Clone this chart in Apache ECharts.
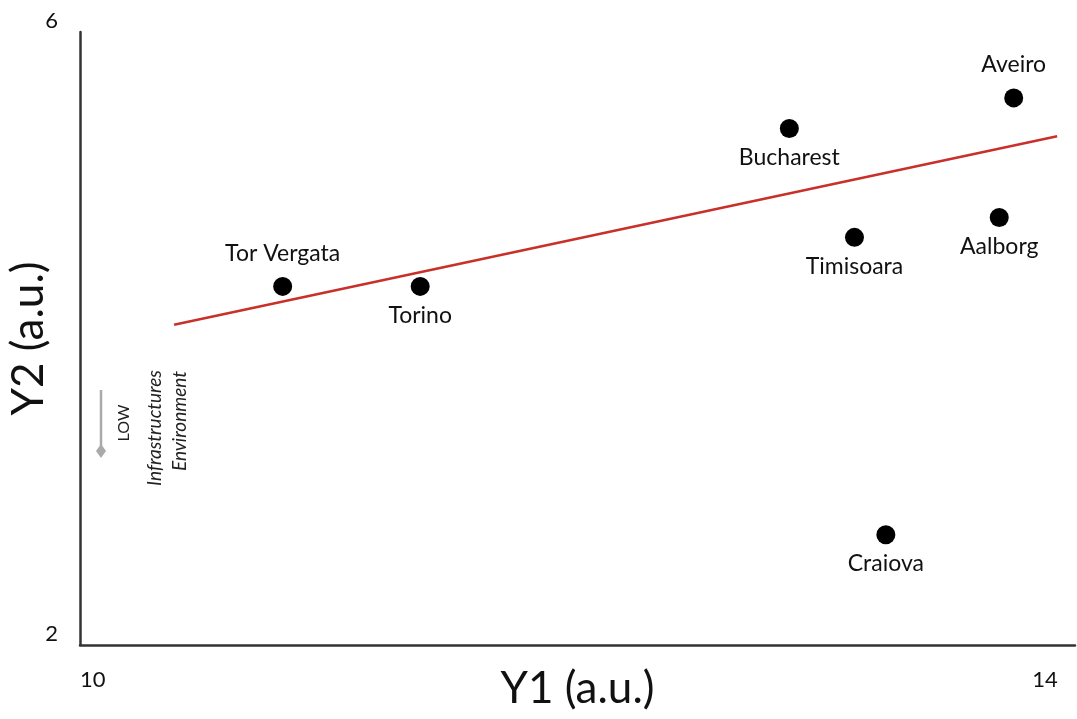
<!DOCTYPE html>
<html>
<head>
<meta charset="utf-8">
<script src="https://cdn.jsdelivr.net/npm/echarts@6/dist/echarts.min.js"></script>
<style>
  html, body { margin: 0; padding: 0; background: #fff; }
  #chart { width: 1077px; height: 719px; }
</style>
</head>
<body>
<div id="chart"></div>
<script>
// cities, values
const cities = ['Tor Vergata', 'Torino', 'Bucharest', 'Timisoara', 'Aalborg', 'Aveiro', 'Craiova'];
const y1Values = [10.84, 11.41, 12.94, 13.21, 13.81, 13.87, 13.34];
const y2Values = [4.34, 4.34, 5.37, 4.66, 4.79, 5.57, 2.72];
const labelAbove = ['Tor Vergata', 'Aveiro'];

// fitted trend line ends
const trendX = [10.39, 14.05];
const trendY = [4.09, 5.32];

const font = 'Lato, "Open Sans", sans-serif';

const chart = echarts.init(document.getElementById('chart'));

const points = cities.map((c, i) => ({
  name: c,
  value: [y1Values[i], y2Values[i]],
  label: {
    position: labelAbove.indexOf(c) >= 0 ? 'top' : 'bottom',
    distance: labelAbove.indexOf(c) >= 0 ? 12 : 8
  }
}));

chart.setOption({
  animation: false,
  textStyle: { fontFamily: font },
  grid: { left: 80, right: 2, top: 32, bottom: 74, outerBoundsMode: 'none', containLabel: false },
  xAxis: {
    type: 'value',
    min: 10,
    max: 14.124,
    interval: 4,
    name: 'Y1 (a.u.)',
    nameLocation: 'middle',
    nameGap: 22,
    nameMoveOverlap: false,
    nameTextStyle: { fontSize: 44, color: '#111', fontFamily: font },
    axisLine: { show: true, lineStyle: { color: '#333', width: 2.5 } },
    axisTick: { show: false },
    splitLine: { show: false },
    axisLabel: {
      margin: 24, fontSize: 22, color: '#111', alignMinLabel: 'left',
      showMaxLabel: false
    }
  },
  yAxis: {
    type: 'value',
    min: 2,
    max: 6,
    interval: 4,
    name: 'Y2 (a.u.)',
    nameLocation: 'middle',
    nameGap: 29,
    nameMoveOverlap: false,
    nameTextStyle: { fontSize: 44, color: '#111', fontFamily: font },
    axisLine: { show: true, lineStyle: { color: '#333', width: 2.5 } },
    axisTick: { show: false },
    splitLine: { show: false },
    axisLabel: { margin: 22, fontSize: 22, color: '#111', verticalAlign: 'bottom' }
  },
  series: [
    {
      type: 'line',
      data: trendX.map((x, i) => [x, trendY[i]]),
      symbol: 'none',
      lineStyle: { color: '#c8302a', width: 2.5 },
      silent: true,
      z: 1
    },
    {
      type: 'scatter',
      data: points,
      symbolSize: 19,
      itemStyle: { color: '#000', opacity: 1 },
      label: {
        show: true,
        formatter: '{b}',
        fontSize: 23,
        color: '#111',
        fontFamily: font
      },
      z: 3
    }
  ],
  graphic: [
    {
      type: 'line',
      shape: { x1: 101, y1: 390, x2: 101, y2: 448 },
      style: { stroke: '#aaa', lineWidth: 2.5 }
    },
    {
      type: 'polygon',
      shape: { points: [[101, 444], [106, 451], [101, 458], [96, 451]] },
      style: { fill: '#aaa' }
    },
    {
      type: 'text',
      x: 124, y: 423, rotation: Math.PI / 2,
      style: { text: 'LOW', fontSize: 16, fill: '#222', fontFamily: font, align: 'center', verticalAlign: 'middle' }
    },
    {
      type: 'text',
      x: 155, y: 428, rotation: Math.PI / 2,
      style: { text: 'Infrastructures', fontSize: 19, fontStyle: 'italic', fill: '#222', fontFamily: font, align: 'center', verticalAlign: 'middle' }
    },
    {
      type: 'text',
      x: 180, y: 421, rotation: Math.PI / 2,
      style: { text: 'Environment', fontSize: 19, fontStyle: 'italic', fill: '#222', fontFamily: font, align: 'center', verticalAlign: 'middle' }
    }
  ]
});
</script>
</body>
</html>
